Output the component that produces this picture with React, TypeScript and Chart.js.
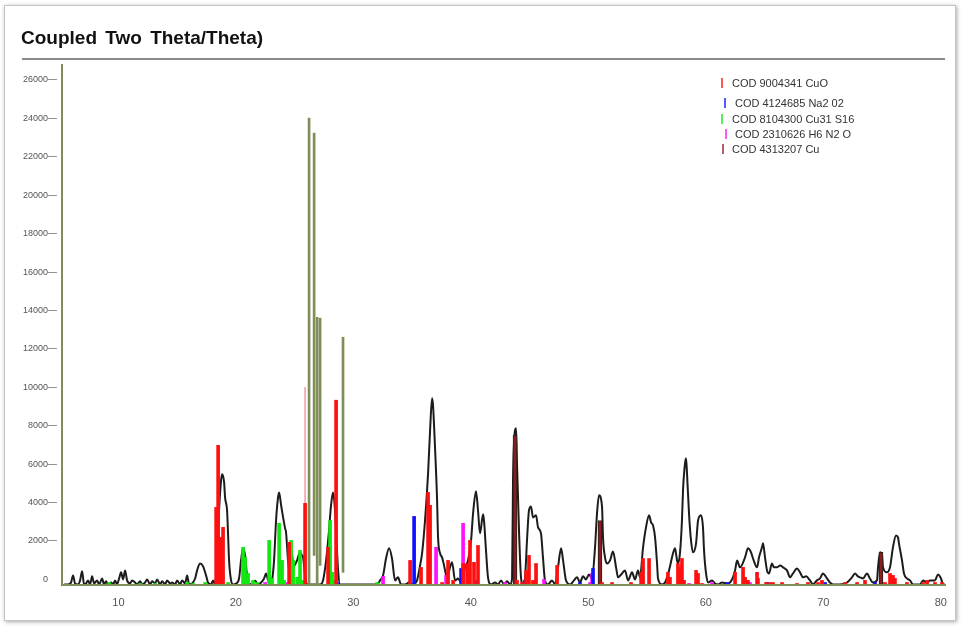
import React, { useEffect, useRef } from "react";
import { Chart, registerables } from "chart.js";

Chart.register(...registerables);

const FONT = '"Liberation Sans", Arial, Helvetica, sans-serif';

// ---- measured pattern (2θ in degrees, counts) ----
const twoTheta = [
  5.38, 5.72, 5.97, 6.14, 6.31, 6.57, 6.74, 6.91, 7.08, 7.25,
  7.42, 7.59, 7.76, 7.93, 8.19, 8.36, 8.61, 8.78, 8.95, 9.12,
  9.38, 9.55, 9.72, 9.89, 10.06, 10.23, 10.4, 10.57, 10.74, 11.0,
  11.17, 11.42, 11.59, 11.85, 12.02, 12.27, 12.44, 12.7, 12.87, 13.12,
  13.29, 13.55, 13.72, 13.97, 14.14, 14.4, 14.57, 14.83, 15.0, 15.25,
  15.42, 15.68, 15.85, 16.02, 16.27, 16.53, 16.7, 16.95, 17.21, 17.46,
  17.63, 17.89, 18.06, 18.23, 18.4, 18.57, 18.74, 18.83, 19.0, 19.08,
  19.25, 19.34, 19.42, 19.59, 19.76, 20.02, 20.27, 20.44, 20.61, 20.78,
  20.95, 21.12, 21.38, 21.63, 21.89, 22.15, 22.4, 22.57, 22.74, 22.91,
  23.08, 23.25, 23.42, 23.59, 23.68, 23.85, 24.02, 24.19, 24.27, 24.44,
  24.61, 24.78, 24.87, 25.04, 25.21, 25.46, 25.63, 25.72, 25.89, 26.06,
  27.17, 27.42, 27.68, 27.93, 28.1, 28.27, 28.44, 28.53, 28.7, 28.87,
  32.02, 32.27, 32.53, 32.78, 33.04, 33.29, 33.55, 33.8, 34.06, 34.4,
  34.74, 35.08, 35.42, 35.68, 35.85, 36.1, 36.36, 36.53, 36.7, 36.78,
  36.95, 37.12, 37.21, 37.38, 37.55, 37.72, 37.97, 38.23, 38.4, 38.66,
  38.91, 39.17, 39.51, 39.76, 40.02, 40.19, 40.44, 40.61, 40.78, 41.04,
  41.12, 41.29, 41.46, 41.72, 42.06, 42.32, 42.57, 42.83, 43.08, 43.34,
  43.51, 43.59, 43.76, 43.85, 43.93, 44.1, 44.27, 44.44, 44.61, 44.78,
  44.95, 45.12, 45.29, 45.55, 45.72, 45.97, 46.14, 46.31, 46.57, 46.91,
  47.17, 47.42, 47.68, 47.85, 48.1, 48.44, 48.78, 49.04, 49.29, 49.55,
  49.8, 50.06, 50.32, 50.57, 50.74, 50.91, 51.17, 51.25, 51.42, 51.59,
  51.85, 52.1, 52.36, 52.53, 52.87, 53.12, 53.38, 53.72, 53.97, 54.23,
  54.4, 54.66, 54.91, 55.17, 55.34, 55.51, 55.68, 55.85, 55.93, 56.27,
  56.53, 56.87, 57.21, 57.38, 57.55, 57.63, 57.8, 57.97, 58.06, 58.23,
  58.32, 58.4, 58.57, 58.74, 58.91, 59.17, 59.34, 59.59, 59.76, 59.85,
  60.02, 60.19, 60.53, 60.78, 61.04, 61.38, 61.8, 62.06, 62.49, 62.66,
  62.91, 63.34, 63.59, 63.85, 64.02, 64.36, 64.53, 64.78, 64.87, 65.04,
  65.21, 65.38, 65.63, 65.8, 66.06, 66.32, 66.57, 66.91, 67.17, 67.42,
  67.76, 68.02, 68.27, 68.53, 68.87, 69.12, 69.46, 69.72, 69.97, 70.32,
  70.57, 70.83, 71.42, 72.02, 72.44, 72.7, 72.95, 73.12, 73.38, 73.72,
  73.97, 74.23, 74.57, 74.66, 74.83, 75.0, 75.08, 75.42, 75.68, 75.93,
  76.19, 76.36, 76.44, 76.7, 76.87, 77.12, 77.38, 77.63, 78.06, 78.23,
  78.49, 78.83, 79.08, 79.51, 79.76, 80.02, 80.19, 80.36,
];
const counts = [
  0, 0, 100, 470, 50, 0, 210, 680, 0, 50,
  210, 0, 420, 50, 210, 0, 310, 0, 160, 0,
  100, 0, 210, 0, 310, 630, 260, 730, 210, 50,
  210, 100, 0, 160, 0, 100, 260, 0, 160, 50,
  260, 0, 160, 0, 210, 50, 100, 0, 210, 0,
  210, 50, 470, 0, 50, 310, 730, 1090, 940, 470,
  100, 0, 210, 0, 1250, 3860, 5420, 5730, 5310, 4530,
  3860, 2550, 1250, 210, 0, 50, 310, 1250, 1880, 1510,
  470, 50, 0, 210, 0, 100, 310, 570, 210, 0,
  210, 1250, 3330, 4530, 4790, 4120, 3490, 2920, 2710, 1250,
  520, 1620, 890, 1040, 1250, 1670, 1510, 1410, 470, 0,
  0, 210, 1250, 2810, 4120, 4790, 3860, 2810, 730, 0,
  0, 210, 470, 1350, 1880, 1350, 210, 370, 0, 0,
  100, 0, 210, 990, 1620, 3330, 5780, 8020, 9690, 9330,
  7140, 4530, 2450, 1620, 1410, 990, 370, 890, 1150, 210,
  310, 100, 890, 1250, 2290, 3700, 4850, 3860, 2660, 3650,
  3330, 1770, 370, 0, 100, 0, 210, 0, 160, 0,
  310, 5420, 8020, 8130, 6300, 2810, 370, 0, 310, 2290,
  3860, 4060, 3490, 3600, 2970, 2660, 1410, 210, 0, 210,
  0, 890, 1880, 1250, 210, 0, 210, 370, 100, 420,
  260, 520, 310, 1930, 3700, 4640, 4010, 2450, 1410, 1090,
  1250, 1720, 890, 370, 570, 730, 210, 630, 260, 730,
  370, 1930, 2970, 3600, 3230, 3070, 2450, 1090, 310, 0,
  100, 730, 1620, 1880, 1250, 1090, 1620, 3330, 4900, 6300,
  6570, 5780, 3700, 2290, 1670, 2140, 3330, 3600, 2970, 1770,
  570, 100, 210, 50, 0, 100, 50, 100, 730, 1250,
  890, 1410, 1880, 1670, 1350, 890, 1410, 1930, 2140, 1410,
  730, 570, 1090, 890, 890, 990, 890, 730, 370, 570,
  830, 630, 370, 420, 210, 0, 210, 310, 570, 310,
  100, 0, 0, 100, 370, 570, 420, 370, 310, 570,
  310, 100, 210, 890, 1670, 1510, 890, 630, 890, 1930,
  2550, 2450, 2140, 1250, 570, 310, 210, 0, 0, 0,
  210, 100, 210, 210, 520, 310, 0, 0,
];

// ---- reference phases (stick positions / heights) ----
const cuoPos = [
  18.32, 18.49, 18.66, 18.91, 24.53, 25.89, 27.85, 28.53, 34.83, 35.76, 36.36, 36.53,
  37.55, 38.06, 38.49, 39.34, 39.68, 39.93, 40.27, 40.61, 43.93, 44.36, 44.7, 44.95,
  45.29, 45.55, 47.34, 51.17, 52.02, 53.63, 54.49, 54.66, 55.17, 56.78, 56.95, 57.63,
  57.8, 57.97, 58.15, 59.17, 59.34, 59.68, 62.49, 63.17, 63.34, 63.59, 64.36, 64.44,
  65.13, 65.47, 65.72, 66.49, 67.76, 68.7, 69.55, 69.89, 71.85, 72.87, 73.55, 75.25,
  75.68, 75.93, 76.1, 77.12, 78.49, 78.83, 79.51, 80.1,
];
const cuoInt = [
  4010, 7240, 2450, 2970, 2190, 4220, 1930, 9590, 1250, 890, 4790, 4120,
  100, 1250, 210, 1090, 1090, 2290, 1150, 2030, 210, 100, 730, 1510,
  210, 1090, 990, 100, 100, 100, 630, 1350, 1350, 630, 370, 1090,
  890, 1350, 210, 730, 570, 50, 630, 890, 370, 210, 630, 310,
  100, 100, 100, 100, 50, 100, 100, 210, 100, 100, 210, 100,
  570, 470, 310, 100, 100, 210, 100, 100,
];
const na2o2Pos = [28.61, 35.17, 39.17, 40.53, 44.61, 49.29, 50.4, 61.8, 63.51, 65.21, 70.15, 74.4];
const na2o2Int = [100, 3540, 830, 210, 210, 100, 830, 100, 100, 100, 100, 100];
const cu31s16Pos = [
  9.21, 11.85, 13.12, 15.85, 16.36, 17.38, 19.34, 20.61, 20.78, 21.04, 21.46, 21.8, 22.83,
  23.08, 23.68, 23.93, 24.1, 24.7, 24.87, 25.21, 25.46, 25.63, 28.02, 28.19, 28.36, 32.02,
];
const cu31s16Int = [
  100, 50, 50, 100, 50, 100, 100, 1930, 1410, 570, 210, 100, 2290,
  310, 3180, 1250, 210, 2290, 1250, 370, 1770, 210, 3330, 630, 210, 100,
];
const h6n2oPos = [22.49, 24.36, 32.53, 37.04, 37.89, 39.34, 42.91, 46.23, 50.15, 50.32, 56.7, 58.57, 60.53, 63.76];
const h6n2oInt = [100, 100, 420, 1930, 470, 3180, 100, 260, 100, 570, 50, 50, 100, 100];
const cuPos = [43.76, 50.99, 74.91];
const cuInt = [7760, 3330, 1670];
// unlabelled sticks (olive, floating) and a thin pink line
const olivePos = [26.23, 26.66, 26.92, 27.17, 29.12];
const oliveLow = [0, 1510, 0, 990, 630];
const oliveHigh = [24280, 23500, 13910, 13860, 12870];
const pinkPos = [25.89];
const pinkInt = [10260];

const phaseNames = [
  "COD 9004341 CuO",
  "COD 4124685 Na2 02",
  "COD 8104300 Cu31 S16",
  "COD 2310626 H6 N2 O",
  "COD 4313207 Cu",
];
const phaseColors = ["#ff1010", "#1010ff", "#10e810", "#ff10ff", "#8e1c1c"];

const xTicks = [10, 20, 30, 40, 50, 60, 70, 80];
const yTicks = [0, 2000, 4000, 6000, 8000, 10000, 12000, 14000, 16000, 18000, 20000, 22000, 24000, 26000];

const OLIVE = "#7f8d58";

export default function App() {
  const ref = useRef<HTMLCanvasElement | null>(null);

  useEffect(() => {
    if (!ref.current) return;
    const sticks = (pos: number[], val: number[]) => pos.map((x, i) => ({ x, y: val[i] }));
    const stickSets = [
      { pos: cuoPos, val: cuoInt, w: 3 },
      { pos: na2o2Pos, val: na2o2Int, w: 3 },
      { pos: cu31s16Pos, val: cu31s16Int, w: 3 },
      { pos: h6n2oPos, val: h6n2oInt, w: 3 },
      { pos: cuPos, val: cuInt, w: 4 },
    ];
    const datasets: any[] = stickSets.map((s, i) => ({
      type: "bar",
      label: phaseNames[i],
      data: sticks(s.pos, s.val),
      backgroundColor: phaseColors[i],
      borderColor: i === 4 ? "#222" : phaseColors[i],
      borderWidth: i === 4 ? 1 : 0,
      borderSkipped: "bottom",
      barThickness: s.w,
      grouped: false,
      order: 1,
    }));
    datasets.push({
      type: "bar",
      label: "unlabelled",
      data: olivePos.map((x, i) => ({ x, y: [oliveLow[i], oliveHigh[i]] })),
      backgroundColor: OLIVE,
      borderWidth: 0,
      barThickness: 2,
      grouped: false,
      order: 1,
    });
    datasets.push({
      type: "bar",
      label: "pink",
      data: sticks(pinkPos, pinkInt),
      backgroundColor: "#f4a3ae",
      borderWidth: 0,
      barThickness: 1,
      grouped: false,
      order: 1,
    });
    datasets.push({
      type: "line",
      label: "measured",
      data: twoTheta.map((x, i) => ({ x, y: counts[i] })),
      borderColor: "#1c1c1c",
      borderWidth: 2,
      pointRadius: 0,
      cubicInterpolationMode: "monotone",
      fill: false,
      order: 2,
    });

    const chart = new Chart(ref.current, {
      type: "bar",
      data: { datasets },
      options: {
        responsive: false,
        animation: false,
        devicePixelRatio: 1,
        layout: { padding: { left: 10, right: 18, top: 65, bottom: 0 } },
        plugins: { legend: { display: false }, tooltip: { enabled: false }, title: { display: false } },
        scales: {
          x: {
            type: "linear",
            min: 5.2,
            max: 80.36,
            offset: false,
            grid: { display: false, drawTicks: false },
            border: { display: true, color: OLIVE, width: 2, z: 1 },
            afterBuildTicks: (axis: any) => {
              axis.ticks = xTicks.map((v) => ({ value: v }));
            },
            afterFit: (s: any) => {
              s.height = 44;
            },
            ticks: {
              padding: 11,
              color: "#555",
              font: { family: FONT, size: 11 },
              maxRotation: 0,
              autoSkip: false,
              callback: (v: any) => String(v),
            },
          },
          y: {
            type: "linear",
            min: -30,
            max: 27040,
            grid: { display: false, drawTicks: false },
            border: { display: true, color: OLIVE, width: 2, z: 1 },
            afterBuildTicks: (axis: any) => {
              axis.ticks = yTicks.map((v) => ({ value: v }));
            },
            afterFit: (s: any) => {
              s.width = 52;
            },
            ticks: {
              padding: 5,
              labelOffset: -5,
              color: "#555",
              font: { family: FONT, size: 9 },
              autoSkip: false,
              callback: (v: any) => (Number(v) === 0 ? "0\u2003" : `${v}\u2014`),
            },
          },
        },
      },
    } as any);
    return () => chart.destroy();
  }, []);

  const legendTickX = [721, 724, 721, 725, 722];
  const legendTextX = [732, 735, 732, 735, 732];
  const legendY = [83, 103, 119, 134, 149];

  return (
    <div
      style={{
        position: "absolute",
        left: 0,
        top: 0,
        width: 963,
        height: 629,
        background: "#fff",
        overflow: "hidden",
        fontFamily: FONT,
      }}
    >
      <div
        style={{
          position: "absolute",
          left: 4,
          top: 5,
          width: 950,
          height: 614,
          border: "1px solid #c4c4c4",
          boxShadow: "1px 1px 4px rgba(0,0,0,0.35)",
          background: "#fff",
        }}
      />
      <canvas ref={ref} width={963} height={629} style={{ position: "absolute", left: 0, top: 0 }} />
      <div
        style={{
          position: "absolute",
          left: 21,
          top: 28,
          fontSize: 19,
          lineHeight: "19px",
          fontWeight: "bold",
          color: "#111",
          wordSpacing: 3,
          whiteSpace: "nowrap",
        }}
      >
        Coupled Two Theta/Theta)
      </div>
      <div
        style={{
          position: "absolute",
          left: 22,
          top: 58,
          width: 923,
          height: 2,
          background: "#8a8a8a",
        }}
      />
      {phaseNames.map((name, i) => (
        <React.Fragment key={name}>
          <div
            style={{
              position: "absolute",
              left: legendTickX[i],
              top: legendY[i] - 5,
              width: 2,
              height: 10,
              background: phaseColors[i],
              opacity: 0.7,
            }}
          />
          <div
            style={{
              position: "absolute",
              left: legendTextX[i],
              top: legendY[i] - 7,
              fontSize: 11,
              lineHeight: "14px",
              color: "#333",
              whiteSpace: "nowrap",
            }}
          >
            {name}
          </div>
        </React.Fragment>
      ))}
    </div>
  );
}
